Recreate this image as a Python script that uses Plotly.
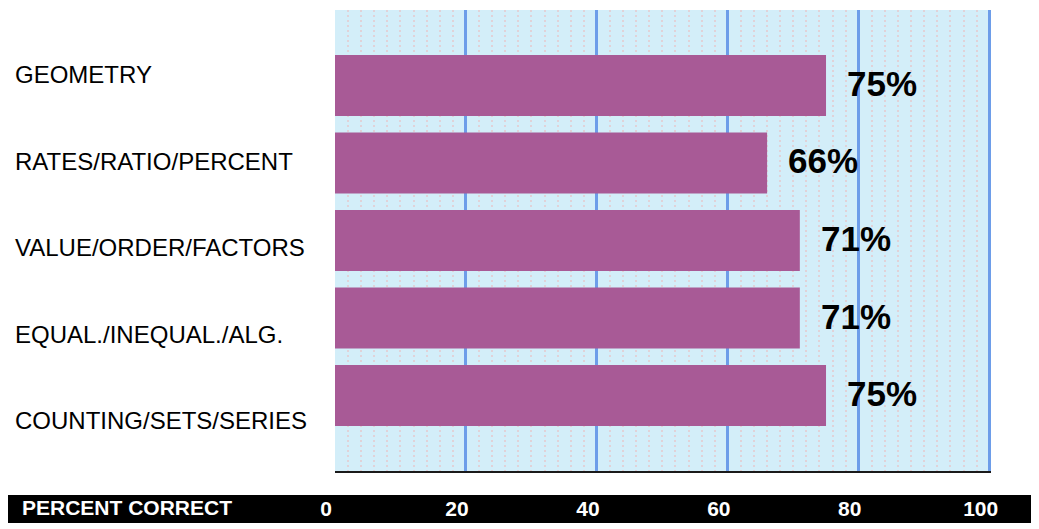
import plotly.graph_objects as go

categories = ["COUNTING/SETS/SERIES", "EQUAL./INEQUAL./ALG.", "VALUE/ORDER/FACTORS",
              "RATES/RATIO/PERCENT", "GEOMETRY"]
values = [75, 71, 71, 66, 75]
value_labels = ["75%", "71%", "71%", "66%", "75%"]
x_ticks = [0, 20, 40, 60, 80, 100]
x_title = "PERCENT CORRECT"

FONT = "Arial, Liberation Sans, Helvetica, sans-serif"

fig = go.Figure()
fig.add_trace(go.Bar(
    x=values, y=categories, orientation="h",
    marker=dict(color="#a85a96", line=dict(width=0)),
    width=0.79, hoverinfo="skip",
))

annotations = []
for c, v, t in zip(categories, values, value_labels):
    annotations.append(dict(
        x=v, y=c, xref="x", yref="y", text=t, showarrow=False,
        xanchor="left", yanchor="middle", xshift=19, yshift=2,
        font=dict(family=FONT, size=35, color="black", weight="bold"),
    ))
for c in categories:
    annotations.append(dict(
        x=0, y=c, xref="paper", yref="y2", text=c, showarrow=False,
        xanchor="left", yanchor="middle", xshift=-322,
        font=dict(family=FONT, size=24, color="black"),
    ))
annotations.append(dict(
    x=0, y=0, xref="paper", yref="paper", text=x_title, showarrow=False,
    xanchor="left", yanchor="middle", xshift=-315, yshift=-36,
    font=dict(family=FONT, size=21, color="white", weight="bold"),
))

fig.update_layout(
    width=1031, height=521,
    margin=dict(l=327, r=48, t=2, b=58),
    paper_bgcolor="white", plot_bgcolor="#d3eef9",
    showlegend=False,
    bargap=0.2,
    xaxis=dict(
        range=[0, 100.2], tickvals=x_ticks, ticktext=[str(t) for t in x_ticks],
        showgrid=True, gridcolor="#6d9de9", gridwidth=2.5,
        minor=dict(dtick=2, showgrid=True, gridcolor="#e0d2d8", gridwidth=2, griddash="2px,3px"),
        zeroline=False, showline=True, linecolor="#1a1a1a", linewidth=2,
        ticks="", ticklabelstandoff=18, ticklabelshift=-9,
        tickfont=dict(family=FONT, size=21, color="white", weight="bold"),
        fixedrange=True,
    ),
    yaxis=dict(
        type="category", categoryorder="array", categoryarray=categories,
        range=[-0.974, 4.974], showticklabels=False, showgrid=False,
        zeroline=False, showline=False, ticks="",
    ),
    yaxis2=dict(
        type="category", categoryorder="array", categoryarray=categories,
        range=[-0.584, 4.751], overlaying="y", visible=False,
        showgrid=False, zeroline=False,
    ),
    shapes=[dict(
        type="rect", xref="paper", yref="paper",
        x0=-0.4985, x1=1.067, y0=-0.1128, y1=-0.0521,
        fillcolor="black", line=dict(width=0), layer="below",
    )],
    annotations=annotations,
)

fig.write_html("out.html")
